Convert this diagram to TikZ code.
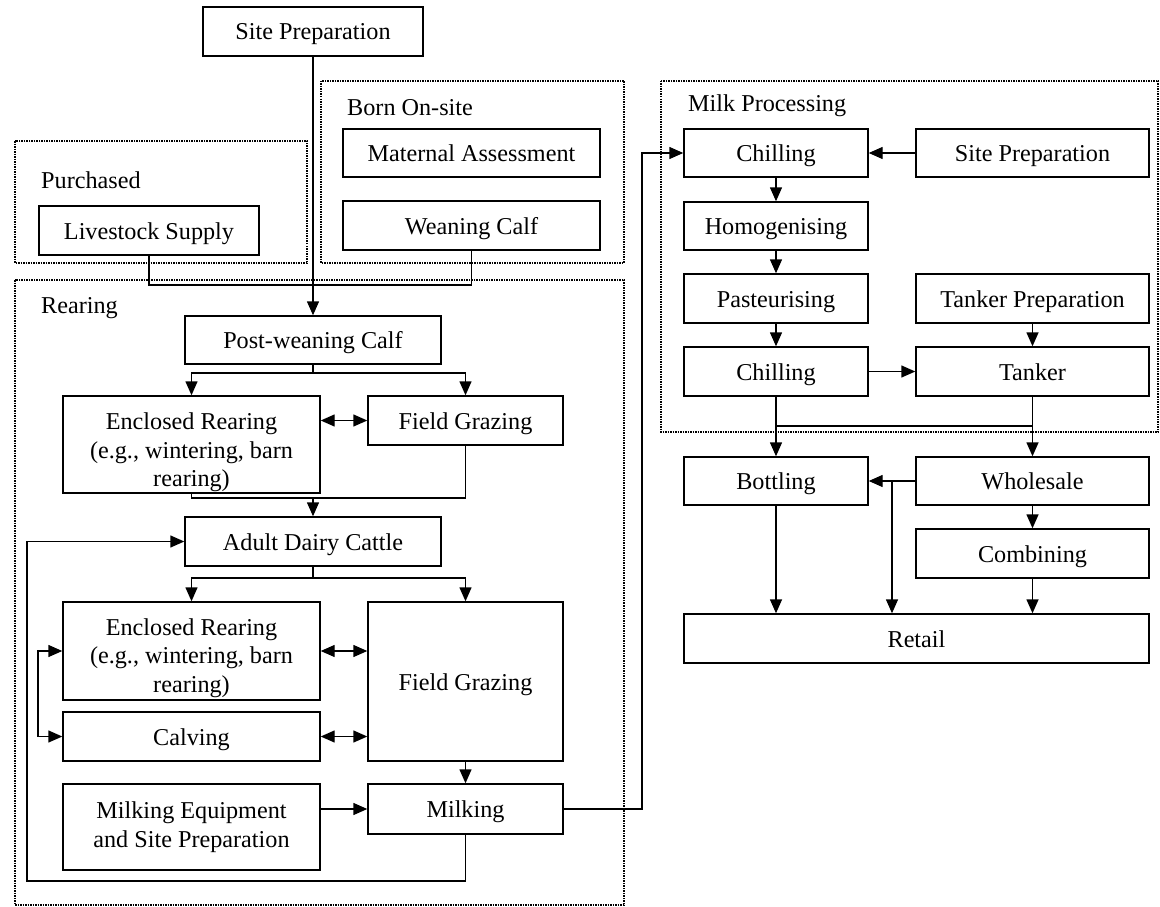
\documentclass[tikz,border=0pt]{standalone}
\usepackage{fontspec}
\setmainfont{Liberation Serif}
\usetikzlibrary{arrows.meta}
\begin{document}
\begin{tikzpicture}[x=1pt,y=-1pt,
  txt/.style={font=\fontsize{24.2pt}{28.8pt}\selectfont},
  box/.style={draw, line width=1.4pt, inner sep=0pt, align=center, txt, text height=17.5pt, text depth=0.5pt},
  mbox/.style={draw, line width=1.4pt, inner sep=0pt, align=center, txt},
  grp/.style={draw, line width=1.5pt, dash pattern=on 1.5pt off 1pt},
  lbl/.style={anchor=base west, inner sep=0pt, txt},
  conn/.style={line width=1.4pt},
  arr/.style={conn, -{Triangle[length=14pt,width=12pt]}},
  darr/.style={conn, {Triangle[length=14pt,width=12pt]}-{Triangle[length=14pt,width=12pt]}}]
\useasboundingbox (0,0) rectangle (1160,907);
% group frames
\draw[grp] (15,141) rectangle (307,263);
\draw[grp] (321,81) rectangle (624,263);
\draw[grp] (15,280) rectangle (624,905);
\draw[grp] (661,81) rectangle (1158,432);
\node[lbl] (lpur) at (41,188) {Purchased};
\node[lbl] (lborn) at (347,115.5) {Born On-site};
\node[lbl] (lrear) at (41,313) {Rearing};
\node[lbl] (lmilk) at (688,111.5) {Milk Processing};
% left nodes
\node[box, minimum width=220pt, minimum height=49pt] (sp1) at (313,31.5) {Site Preparation};
\node[box, minimum width=220pt, minimum height=49pt] (ls) at (149,230.5) {Livestock Supply};
\node[box, minimum width=257pt, minimum height=48pt] (ma) at (471.5,153) {Maternal Assessment};
\node[box, minimum width=257pt, minimum height=49pt] (wc) at (471.5,225.5) {Weaning Calf};
\node[box, minimum width=256pt, minimum height=48pt] (pw) at (313,340) {Post-weaning Calf};
\node[mbox, minimum width=257pt, minimum height=97pt] (er1) at (191.5,444.5) {\rule{0pt}{32.5pt}Enclosed Rearing\\(e.g., wintering, barn\\rearing)};
\node[box, minimum width=195pt, minimum height=49pt] (fg1) at (465.5,420.5) {Field Grazing};
\node[box, minimum width=256pt, minimum height=49pt] (adc) at (313,541.5) {Adult Dairy Cattle};
\node[mbox, minimum width=257pt, minimum height=98pt] (er2) at (191.5,651) {\rule{0pt}{31pt}Enclosed Rearing\\(e.g., wintering, barn\\rearing)};
\node[box, minimum width=195pt, minimum height=159pt] (fg2) at (465.5,681.5) {Field Grazing};
\node[box, minimum width=257pt, minimum height=49pt] (calv) at (191.5,736.5) {Calving};
\node[mbox, minimum width=257pt, minimum height=86pt] (me) at (191.5,827) {Milking Equipment\\and Site Preparation};
\node[box, minimum width=195pt, minimum height=50pt] (milk) at (465.5,809) {Milking};
% right nodes
\node[box, minimum width=184pt, minimum height=48pt] (ch1) at (776,153) {Chilling};
\node[box, minimum width=233pt, minimum height=48pt] (sp2) at (1032.5,153) {Site Preparation};
\node[box, minimum width=184pt, minimum height=48pt] (hom) at (776,226) {Homogenising};
\node[box, minimum width=184pt, minimum height=49pt] (past) at (776,298.5) {Pasteurising};
\node[box, minimum width=233pt, minimum height=49pt] (tp) at (1032.5,298.5) {Tanker Preparation};
\node[box, minimum width=184pt, minimum height=49pt] (ch2) at (776,371.5) {Chilling};
\node[box, minimum width=233pt, minimum height=49pt] (tank) at (1032.5,371.5) {Tanker};
\node[box, minimum width=184pt, minimum height=48pt] (bott) at (776,481) {Bottling};
\node[box, minimum width=233pt, minimum height=48pt] (whole) at (1032.5,481) {Wholesale};
\node[box, minimum width=233pt, minimum height=49pt] (comb) at (1032.5,553.5) {Combining};
\node[box, minimum width=465pt, minimum height=49pt] (retail) at (916.5,638.5) {Retail};
% junction coordinates
\coordinate (j1) at (313,285);
\coordinate (j2) at (313,373);
\coordinate (j3) at (313,498);
\coordinate (j4) at (313,578);
\coordinate (jb) at (38,651);
\coordinate (jm) at (642,809);
\coordinate (jf) at (27,881);
\coordinate (jr) at (892,481);
\coordinate (jc) at (776,426);
\coordinate (jt) at (1032.5,426);
% left connectors
\draw[arr] (sp1.south) -- (pw.north);
\draw[conn] (ls.south) |- (j1) -| (wc.south);
\draw[conn] (pw.south) -- (j2);
\draw[arr] (j2) -| (er1.north);
\draw[arr] (j2) -| (fg1.north);
\draw[darr] (er1.east |- fg1.west) -- (fg1.west);
\draw[conn] (er1.south) |- (j3) -| (fg1.south);
\draw[arr] (j3) -- (adc.north);
\draw[conn] (adc.south) -- (j4);
\draw[arr] (j4) -| (er2.north);
\draw[arr] (j4) -| (fg2.north);
\draw[darr] (er2.east) -- (er2.east -| fg2.west);
\draw[darr] (calv.east) -- (calv.east -| fg2.west);
\draw[darr] (er2.west) -- (jb) |- (calv.west);
\draw[arr] (fg2.south) -- (milk.north);
\draw[arr] (me.east |- milk.west) -- (milk.west);
\draw[arr] (milk.south) |- (jf) |- (adc.west);
\draw[arr] (milk.east) -- (jm) |- (ch1.west);
% right connectors
\draw[arr] (sp2.west) -- (ch1.east);
\draw[arr] (ch1.south) -- (hom.north);
\draw[arr] (hom.south) -- (past.north);
\draw[arr] (past.south) -- (ch2.north);
\draw[arr] (tp.south) -- (tank.north);
\draw[arr] (ch2.east) -- (tank.west);
\draw[arr] (ch2.south) -- (bott.north);
\draw[arr] (tank.south) -- (whole.north);
\draw[conn] (jc) -- (jt);
\draw[arr] (whole.west) -- (bott.east);
\draw[arr] (jr) -- (jr |- retail.north);
\draw[arr] (bott.south) -- (bott.south |- retail.north);
\draw[arr] (whole.south) -- (comb.north);
\draw[arr] (comb.south) -- (comb.south |- retail.north);
\end{tikzpicture}
\end{document}
